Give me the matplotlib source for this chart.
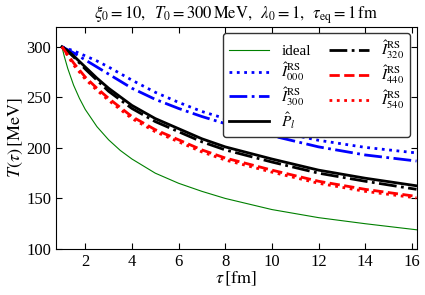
import numpy as np
import matplotlib
matplotlib.use("Agg")
import matplotlib.pyplot as plt

plt.rcParams['font.family'] = ['Liberation Serif', 'DejaVu Serif']
plt.rcParams['mathtext.fontset'] = 'stix'

# values (T in MeV)
tau_ideal = [1, 1.1, 1.25, 1.5, 1.75, 2, 2.5, 3, 3.5, 4, 5, 6, 7, 8, 10, 12, 14, 16.2]
T_ideal = [300, 290.6, 278.5, 262, 249, 238, 221, 208, 197.5, 189, 175, 165, 157, 150, 139, 131, 125, 119]

tau = [1, 1.25, 1.5, 2, 2.5, 3, 4, 5, 6, 7, 8, 10, 12, 14, 16.2]
T_000 = [300, 298, 296, 291, 286, 280, 267, 255, 245, 236, 229, 217, 207.5, 200.5, 195]
T_300 = [300, 297, 294, 287, 280, 273, 259, 248, 239, 231, 224, 212, 201, 193, 187]
T_Pl = [300, 296, 291, 280, 269, 259, 242, 229, 219, 209, 201, 189, 178, 170, 162.5]
T_320 = [300, 295.5, 290, 278, 267, 256, 239, 226, 216, 206, 198, 186, 175, 167, 159]
T_440 = [300, 292, 284, 270, 259, 249, 231, 218, 208, 198, 190, 178, 167, 159, 152]
T_540 = [300, 291, 282, 268, 257, 247, 229, 216, 206, 196, 188, 176, 165, 157, 150.5]

fig = plt.figure(figsize=(4.25, 2.95), dpi=100)
ax = fig.add_axes([0.132, 0.156, 0.848, 0.754])

ax.plot(tau_ideal, T_ideal, 'g-', lw=0.8, label='ideal')
ax.plot(tau, T_000, 'b:', lw=2, label=r'$\hat{I}^{\rm RS}_{000}$')
ax.plot(tau, T_300, 'b-.', lw=2, label=r'$\hat{I}^{\rm RS}_{300}$')
ax.plot(tau, T_Pl, 'k-', lw=2, label=r'$\hat{P}_l$')
ax.plot(tau, T_320, 'k-.', lw=2, label=r'$\hat{I}^{\rm RS}_{320}$')
ax.plot(tau, T_440, 'r--', lw=2, label=r'$\hat{I}^{\rm RS}_{440}$')
ax.plot(tau, T_540, 'r:', lw=2, label=r'$\hat{I}^{\rm RS}_{540}$')

ax.set_xlim(0.75, 16.2)
ax.set_ylim(100, 320)
ax.set_xticks([2, 4, 6, 8, 10, 12, 14, 16])
ax.set_yticks([100, 150, 200, 250, 300])
ax.tick_params(direction='in', top=True, right=True, labelsize=12, length=4)

ax.set_xlabel(r'$\tau\,[\mathrm{fm}]$', fontsize=13, labelpad=0)
ax.set_ylabel(r'$T(\tau)\,[\mathrm{MeV}]$', fontsize=13, labelpad=1)
ax.set_title(r'$\xi_0=10,\;\;T_0=300\,\mathrm{MeV},\;\;\lambda_0=1,\;\;\tau_{\rm eq}=1\,\mathrm{fm}$',
             fontsize=12, pad=6)

leg = ax.legend(loc='upper right', ncol=2, fontsize=11, fancybox=True, framealpha=1,
                handlelength=2.6, columnspacing=1.2, labelspacing=0.15,
                borderaxespad=0.4, edgecolor='0.2')

fig.savefig('out.png', dpi=100)
